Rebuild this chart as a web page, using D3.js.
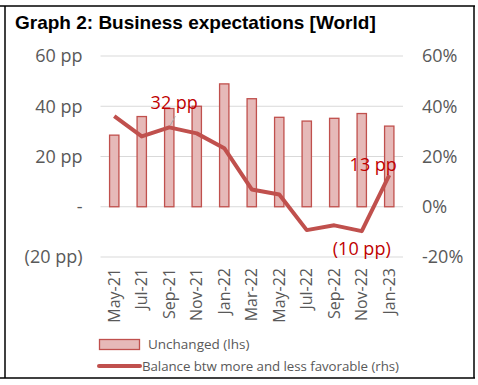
<!DOCTYPE html>
<html>
<head>
<meta charset="utf-8">
<script src="https://cdn.jsdelivr.net/npm/d3@7"></script>
<style>
  body { margin: 0; background: #fff; }
  svg text { font-family: "Open Sans", "Noto Sans", sans-serif; }
</style>
</head>
<body>
<div id="chart"></div>
<script>
var months = ["May-21", "Jul-21", "Sep-21", "Nov-21", "Jan-22", "Mar-22", "May-22", "Jul-22", "Sep-22", "Nov-22", "Jan-23"];
var unchanged = [28.5, 35.9, 39.1, 40.0, 48.9, 43.0, 35.6, 34.1, 35.2, 37.1, 32.1];
var balance = [36.1, 28.0, 31.6, 29.2, 23.3, 6.9, 4.9, -9.3, -7.4, -9.7, 12.6];
var leftTicks = [60, 40, 20, 0, -20];
var leftTickLabels = ["60 pp", "40 pp", "20 pp", "-", "(20 pp)"];
var rightTicks = [60, 40, 20, 0, -20];
var rightTickLabels = ["60%", "40%", "20%", "0%", "-20%"];
var pointLabels = [{i: 2, text: "32 pp"}, {i: 9, text: "(10 pp)"}, {i: 10, text: "13 pp"}];

var svgWidth = 478, svgHeight = 385;
var margin = {top: 56, left: 100.5, right: 75, bottom: 128};
var width = 302.5;
var red = "#c0504d";
var grey = "#595959";

var svg = d3.select("#chart").append("svg")
    .attr("width", svgWidth)
    .attr("height", svgHeight);

// frame
var frame = svg.append("g").attr("stroke", "#000").attr("stroke-width", 1.5);
frame.append("line").attr("x1", 0).attr("x2", 475).attr("y1", 6).attr("y2", 6);
frame.append("line").attr("x1", 0).attr("x2", 475).attr("y1", 378).attr("y2", 378);
frame.append("line").attr("x1", 5).attr("x2", 5).attr("y1", 6).attr("y2", 378);
frame.append("line").attr("x1", 474).attr("x2", 474).attr("y1", 6).attr("y2", 378);

svg.append("text")
    .attr("x", 15)
    .attr("y", 29)
    .attr("font-size", 19)
    .attr("font-weight", "bold")
    .attr("fill", "#000")
    .style("font-family", "'Liberation Sans', Arial, sans-serif")
    .text("Graph 2: Business expectations [World]");

var x = d3.scaleBand()
    .domain(months)
    .range([margin.left, margin.left + width])
    .paddingInner(0.66)
    .paddingOuter(0.33);

var yL = d3.scaleLinear().domain([-20, 60]).range([257, 56]);
var yR = d3.scaleLinear().domain([-20, 60]).range([257, 56]);

// gridlines
svg.append("g").selectAll("line")
    .data(leftTicks)
    .enter()
    .append("line")
    .attr("x1", margin.left)
    .attr("x2", margin.left + width)
    .attr("y1", d => yL(d))
    .attr("y2", d => yL(d))
    .attr("stroke", "#d9d9d9")
    .attr("stroke-width", 1);

// left axis
var leftAxis = d3.axisLeft(yL)
    .tickValues(leftTicks)
    .tickFormat((d, i) => leftTickLabels[i])
    .tickSize(0)
    .tickPadding(18);
var gL = svg.append("g")
    .attr("transform", `translate(${margin.left},0)`)
    .call(leftAxis);
gL.select(".domain").remove();
gL.selectAll("text").attr("font-size", 18).attr("fill", grey).style("font-family", "'Open Sans', sans-serif");

// right axis
var rightAxis = d3.axisRight(yR)
    .tickValues(rightTicks)
    .tickFormat((d, i) => rightTickLabels[i])
    .tickSize(0)
    .tickPadding(19);
var gR = svg.append("g")
    .attr("transform", `translate(${margin.left + width},0)`)
    .call(rightAxis);
gR.select(".domain").remove();
gR.selectAll("text").attr("font-size", 18).attr("fill", grey).style("font-family", "'Open Sans', sans-serif");

// bars
svg.append("g").selectAll("rect")
    .data(unchanged)
    .enter()
    .append("rect")
    .attr("x", (d, i) => x(months[i]))
    .attr("width", x.bandwidth())
    .attr("y", d => yL(d))
    .attr("height", d => yL(0) - yL(d))
    .attr("fill", "#e6b9b8")
    .attr("stroke", red)
    .attr("stroke-width", 1.3);

// x axis labels
var bottomAxis = d3.axisBottom(x).tickSize(0).tickPadding(0);
var gX = svg.append("g")
    .attr("transform", "translate(0,268)")
    .call(bottomAxis);
gX.select(".domain").remove();
gX.selectAll("text")
    .attr("font-size", 16)
    .attr("fill", grey)
    .attr("text-anchor", "end")
    .attr("dy", "0.35em")
    .attr("transform", "rotate(-90)")
    .attr("x", 0)
    .attr("y", 0)
    .style("font-family", "'Open Sans', sans-serif");

// balance line
var line = d3.line()
    .x((d, i) => x(months[i]) + x.bandwidth() / 2)
    .y(d => yR(d));
svg.append("path")
    .datum(balance)
    .attr("d", line)
    .attr("fill", "none")
    .attr("stroke", red)
    .attr("stroke-width", 4)
    .attr("stroke-linejoin", "round");

// leader line for 32 pp
var p3x = x(months[2]) + x.bandwidth() / 2;
svg.append("line")
    .attr("x1", p3x + 1)
    .attr("y1", yR(balance[2]) - 2)
    .attr("x2", p3x + 6)
    .attr("y2", yR(balance[2]) - 11)
    .attr("stroke", "#a6a6a6")
    .attr("stroke-width", 1);

// data labels
var labelOffsets = {2: [5, -18], 9: [0, 24], 10: [-16, -4]};
svg.append("g").selectAll("text")
    .data(pointLabels)
    .enter()
    .append("text")
    .attr("x", d => x(months[d.i]) + x.bandwidth() / 2 + labelOffsets[d.i][0])
    .attr("y", d => yR(balance[d.i]) + labelOffsets[d.i][1])
    .attr("text-anchor", "middle")
    .attr("font-size", 18)
    .attr("fill", "#c00000")
    .style("font-family", "'Open Sans', sans-serif")
    .text(d => d.text);

// legend
var legend = svg.append("g");
legend.append("rect")
    .attr("x", 99.5).attr("y", 339.5)
    .attr("width", 40).attr("height", 10)
    .attr("fill", "#e6b9b8")
    .attr("stroke", red)
    .attr("stroke-width", 1.3);
legend.append("text")
    .attr("x", 148).attr("y", 349)
    .attr("font-size", 13.5)
    .attr("fill", grey)
    .text("Unchanged (lhs)");
legend.append("line")
    .attr("x1", 99).attr("x2", 140)
    .attr("y1", 366).attr("y2", 366)
    .attr("stroke", red)
    .attr("stroke-width", 4)
    .attr("stroke-linecap", "round");
legend.append("text")
    .attr("x", 142).attr("y", 371)
    .attr("font-size", 13.3)
    .attr("fill", grey)
    .attr("textLength", 257)
    .text("Balance btw more and less favorable (rhs)");
</script>
</body>
</html>
